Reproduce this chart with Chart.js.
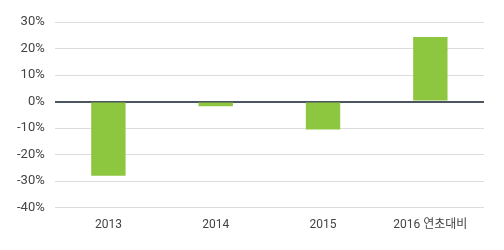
<!DOCTYPE html>
<html>
<head>
<meta charset="utf-8">
<script src="https://cdn.jsdelivr.net/npm/chart.js@4"></script>
<style>
    html, body { margin: 0; padding: 0; background: #fff; }
    #wrap { width: 504px; height: 250px; }
</style>
</head>
<body>
<div id="wrap"><canvas id="chart" width="504" height="250"></canvas></div>
<script>
    // values
    const categories = ['2013', '2014', '2015', '2016 연초대비'];
    const changes = [-28, -1.8, -10.5, 24.3];
    const yTicks = { min: -40, max: 30, step: 10 };

    const fontFamily = 'Roboto, "Noto Sans CJK KR", sans-serif';

    const ctx = document.getElementById('chart').getContext('2d');
    new Chart(ctx, {
        type: 'bar',
        data: {
            labels: categories,
            datasets: [{
                data: changes,
                backgroundColor: '#8dc63f',
                barPercentage: 0.32,
                categoryPercentage: 1
            }]
        },
        options: {
            responsive: false,
            animation: false,
            layout: { padding: { left: 7, right: 20, top: 22, bottom: 8 } },
            plugins: { legend: { display: false }, tooltip: { enabled: false } },
            scales: {
                x: {
                    grid: { display: false, drawTicks: false },
                    border: { display: false },
                    ticks: { color: '#444', font: { family: fontFamily, size: 12 }, padding: 10 }
                },
                y: {
                    min: yTicks.min,
                    max: yTicks.max,
                    border: { display: false },
                    grid: {
                        drawTicks: false,
                        color: c => c.tick && c.tick.value === 0 ? '#4b5660' : '#dcdcdc',
                        lineWidth: c => c.tick && c.tick.value === 0 ? 2 : 1
                    },
                    ticks: {
                        stepSize: yTicks.step,
                        padding: 10,
                        color: '#444',
                        font: { family: fontFamily, size: 13 },
                        callback: v => v + '%'
                    }
                }
            }
        }
    });
</script>
</body>
</html>
